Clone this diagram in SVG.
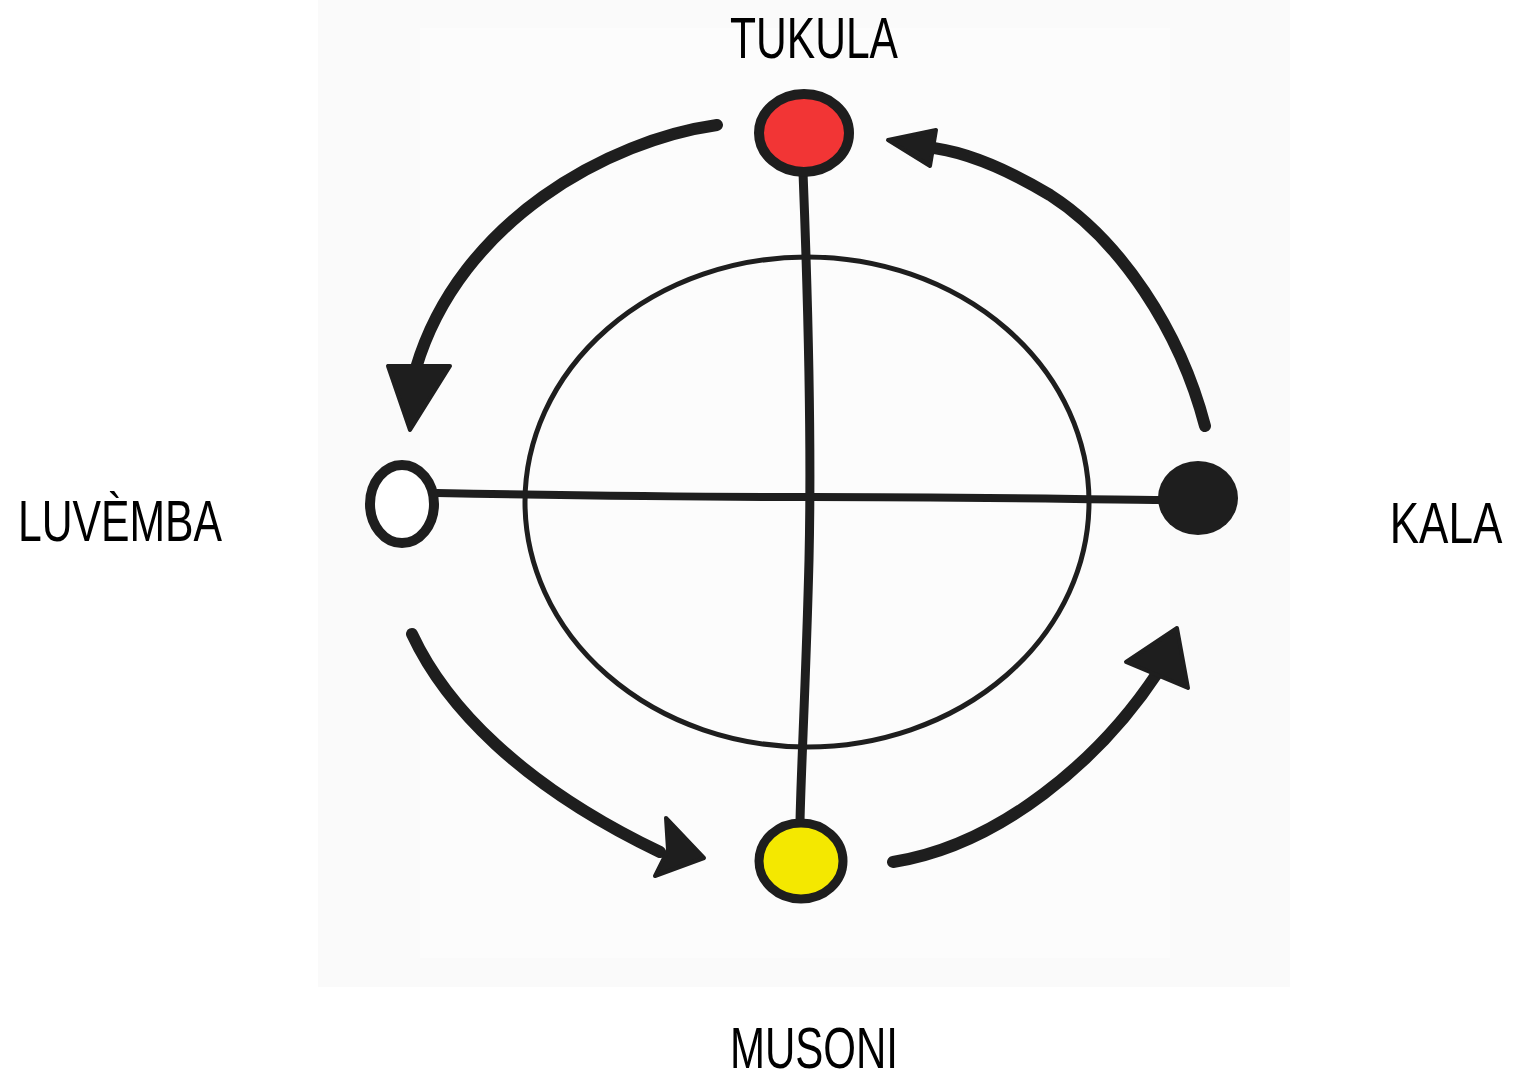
<svg xmlns="http://www.w3.org/2000/svg" width="1519" height="1079" viewBox="0 0 1519 1079">
<style>
.ink{fill:none;stroke:#1e1e1e;stroke-linecap:round;stroke-linejoin:round}
.arc{stroke-width:12}
.head{fill:#1e1e1e;stroke:#1e1e1e;stroke-width:4;stroke-linejoin:round}
.lbl{font-family:"Liberation Sans","DejaVu Sans",sans-serif;font-size:58px;fill:#000;text-anchor:middle}
</style>
<rect width="1519" height="1079" fill="#ffffff"/>
<rect x="318" y="0" width="972" height="987" fill="#fafafa"/>
<rect x="420" y="28" width="750" height="930" fill="#fcfcfc"/>

<g id="inner-circle">
<ellipse cx="807" cy="502" rx="282" ry="245" class="ink" stroke-width="5"/>
</g>

<g id="connectors">
<path class="ink" stroke-width="9" d="M803,172 C808,300 812,430 809,560 C806,680 801,770 800,822"/>
<path class="ink" stroke-width="8" d="M437,493 C600,496 720,497 810,497 C950,497 1060,499 1162,500"/>
<path class="ink arc" d="M717,125 C610,140 460,220 416,368"/>
<polygon class="head" points="388,366 450,366 410,430"/>
<path class="ink arc" d="M1205,426 C1180,330 1120,240 1050,195 C1000,165 960,150 925,147"/>
<polygon class="head" points="888,140 936,130 930,166"/>
<path class="ink arc" d="M412,634 C445,705 520,785 660,852"/>
<polygon class="head" points="666,818 704,858 655,876 668,850"/>
<path class="ink arc" d="M893,862 C1000,845 1100,760 1158,672"/>
<polygon class="head" points="1177,628 1126,662 1188,688"/>
</g>

<g id="tukula">
<ellipse cx="804" cy="133" rx="45" ry="39" fill="#f23535" stroke="#1e1e1e" stroke-width="10"/>
<text class="lbl" x="814" y="58" textLength="168" lengthAdjust="spacingAndGlyphs">TUKULA</text>
</g>
<g id="luvemba">
<ellipse cx="402" cy="504" rx="32" ry="39" fill="#ffffff" stroke="#1e1e1e" stroke-width="10"/>
<text class="lbl" x="120" y="541" textLength="204" lengthAdjust="spacingAndGlyphs">LUVÈMBA</text>
</g>
<g id="kala">
<ellipse cx="1198" cy="498" rx="40" ry="37" fill="#1e1e1e"/>
<text class="lbl" transform="translate(1446,543) scale(0.76,1)" x="0" y="0">KALA</text>
</g>
<g id="musoni">
<ellipse cx="801" cy="861" rx="42" ry="38" fill="#f4e800" stroke="#1e1e1e" stroke-width="9"/>
<text class="lbl" x="814" y="1068" textLength="168" lengthAdjust="spacingAndGlyphs">MUSONI</text>
</g>
</svg>
